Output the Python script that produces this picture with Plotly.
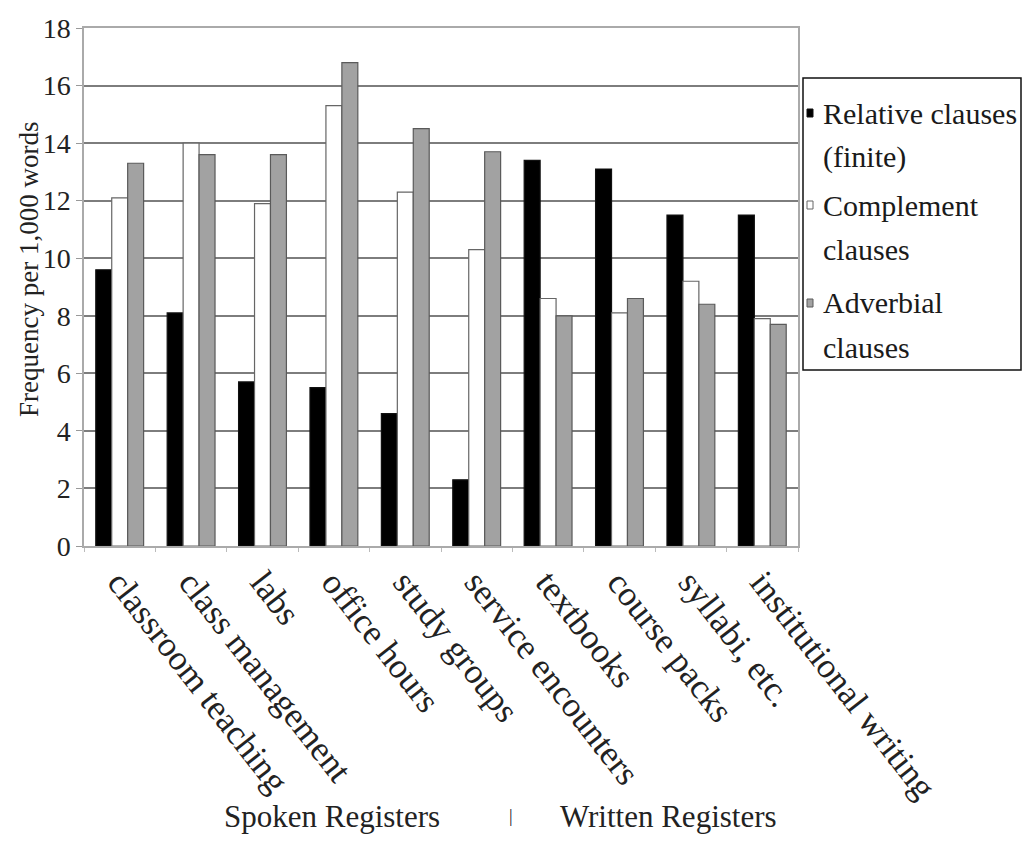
import plotly.graph_objects as go

categories = ["classroom teaching", "class management", "labs", "office hours",
              "study groups", "service encounters", "textbooks", "course packs",
              "syllabi, etc.", "institutional writing"]
relative = [9.6, 8.1, 5.7, 5.5, 4.6, 2.3, 13.4, 13.1, 11.5, 11.5]
complement = [12.1, 14.0, 11.9, 15.3, 12.3, 10.3, 8.6, 8.1, 9.2, 7.9]
adverbial = [13.3, 13.6, 13.6, 16.8, 14.5, 13.7, 8.0, 8.6, 8.4, 7.7]
series_names = ["Relative clauses (finite)", "Complement clauses", "Adverbial clauses"]
legend_lines = [["Relative clauses", "(finite)"], ["Complement", "clauses"], ["Adverbial", "clauses"]]
series_colors = ["#000000", "#ffffff", "#a2a2a2"]
series_edges = ["#111111", "#666666", "#5a5a5a"]
y_ticks = [0, 2, 4, 6, 8, 10, 12, 14, 16, 18]
group_labels = ["Spoken Registers", "|", "Written Registers"]
y_title = "Frequency per 1,000 words"

FONT = "Liberation Serif"
TXT = "#222222"

# plot area in pixels
L, R, T, B = 84, 798, 28, 546
W, H = R - L, B - T


def px(x):
    return (x - L) / W


def py(y):
    return (B - y) / H


fig = go.Figure()
for vals, name, col, edge in zip([relative, complement, adverbial], series_names,
                                 series_colors, series_edges):
    fig.add_trace(go.Bar(x=categories, y=vals, name=name, showlegend=False,
                         marker=dict(color=col, line=dict(color=edge, width=1.2))))

fig.update_layout(
    width=1023, height=841,
    margin=dict(l=L, r=1023 - R, t=T, b=841 - B),
    paper_bgcolor="white", plot_bgcolor="white",
    barmode="group", bargap=0.33, bargroupgap=0,
    font=dict(family=FONT, size=24, color=TXT),
    showlegend=False,
)

# manual legend (box, swatches, text)
fig.add_shape(type="rect", xref="paper", yref="paper",
              x0=px(803), x1=px(1021), y0=py(370), y1=py(78),
              line=dict(color="#111111", width=1.5), fillcolor="white")
entry_y = [113, 205, 303]
for i, (lines, col, edge) in enumerate(zip(legend_lines, series_colors, series_edges)):
    cy = entry_y[i]
    fig.add_shape(type="rect", xref="paper", yref="paper",
                  x0=px(807), x1=px(813), y0=py(cy + 4), y1=py(cy - 4),
                  line=dict(color=edge, width=1), fillcolor=col)
    for j, line in enumerate(lines):
        fig.add_annotation(text=line, xref="paper", yref="paper",
                           x=px(821), y=py(cy + j * 44), xanchor="left", yanchor="middle",
                           showarrow=False, font=dict(size=30, color="#1a1a1a"))

# y-axis title
fig.add_annotation(text=y_title, xref="paper", yref="paper", x=px(29), y=py(270),
                   textangle=-90, showarrow=False, xanchor="center", yanchor="middle",
                   font=dict(size=27))

# group labels under the axis
for txt, x, size in zip(group_labels, [332, 511, 668], [31, 18, 31]):
    fig.add_annotation(text=txt, xref="paper", yref="paper", x=px(x), y=py(816),
                       showarrow=False, xanchor="center", yanchor="middle",
                       font=dict(size=size, color="#222222"))

fig.update_xaxes(tickangle=52, tickfont=dict(size=35),
                 showline=True, linecolor="#aaaaaa", linewidth=1.5, mirror=True,
                 ticks="outside", ticklen=4, tickcolor="#bbbbbb",
                 tickson="boundaries", showgrid=False)
fig.update_yaxes(range=[0, 18], tickvals=y_ticks, tickfont=dict(size=28),
                 showgrid=True, gridcolor="#7d7d7d", gridwidth=2,
                 showline=True, linecolor="#aaaaaa", linewidth=1.5, mirror=True,
                 zeroline=False, ticks="outside", ticklen=6, tickcolor="#999999")

fig.write_html("out.html")
